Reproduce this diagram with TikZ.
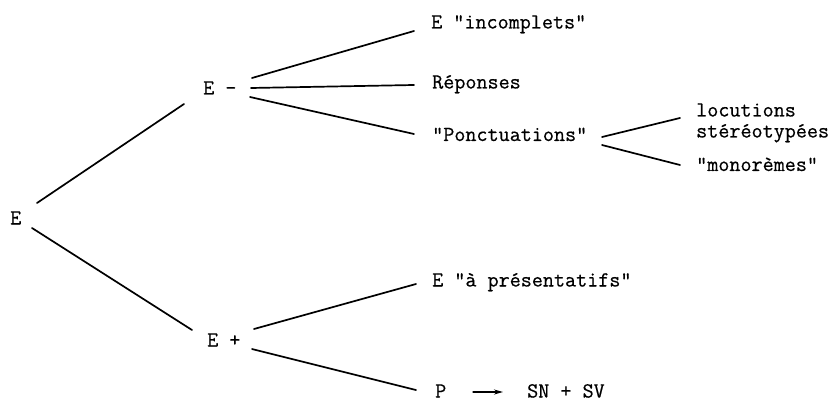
\documentclass[tikz,border=0pt]{standalone}
\usepackage{fontspec}
\newfontfamily\typew[FakeBold=0.6]{Latin Modern Mono}
\usetikzlibrary{calc,arrows.meta}
\tikzset{
  lbl/.style={anchor=base west, inner sep=0pt, font=\fontsize{21.5}{21.5}\selectfont\typew},
  edge/.style={line width=1.7pt, line cap=round},
  rewrite/.style={edge, line width=1.3pt, -{Stealth[length=9pt,width=5pt]}}
}
\begin{document}
\begin{tikzpicture}[x=1pt, y=-1pt]
  \useasboundingbox (0,0) rectangle (837,398);

  % labels of the tree (base line positions)
  \node[lbl] (root) at (10,224.5)  {E};
  \node[lbl] (em)   at (203,94.5)  {E -};
  \node[lbl] (ep)   at (207,346.5) {E +};
  \node[lbl] (inc)  at (431,28.5)  {E "incomplets"};
  \node[lbl] (rep)  at (432,88.5)  {Réponses};
  \node[lbl] (ponc) at (432,141)   {"Ponctuations"};
  \node[lbl] (loc)  at (696,116.5) {locutions};
  \node[lbl] (ster) at (696,137.5) {stéréotypées};
  \node[lbl] (mono) at (696,171)   {"monorèmes"};
  \node[lbl] (pres) at (432,286.5) {E "à présentatifs"};
  \node[lbl] (P)    at (435,397.5) {P};
  \node[lbl] (snsv) at (527,397.5) {SN + SV};

  % first split
  \draw[edge] ($(root.base west)+(27,-21.5)$) -- ($(em.base west)+(-19,9.5)$);
  \draw[edge] ($(root.base west)+(22,3.5)$)   -- ($(ep.base west)+(-15,-16.5)$);

  % branches of E -
  \draw[edge] ($(em.base west)+(49,-16.5)$) -- ($(inc.base west)+(-17,2.5)$);
  \draw[edge] ($(em.base west)+(48,-6.5)$)  -- ($(rep.base west)+(-18,-3.5)$);
  \draw[edge] ($(em.base west)+(47,2.5)$)   -- ($(ponc.base west)+(-18,-7)$);

  % branches of "Ponctuations"
  \draw[edge] ($(ponc.base west)+(170,-4)$) -- ($(loc.base west)+(-16,1.5)$);
  \draw[edge] ($(ponc.base west)+(170,4)$)  -- ($(mono.base west)+(-16,-6)$);

  % branches of E +
  \draw[edge] ($(ep.base west)+(47,-17.5)$) -- ($(pres.base west)+(-16,-2.5)$);
  \draw[edge] ($(ep.base west)+(45,2.5)$)   -- ($(P.base west)+(-19,-7.5)$);

  % rewrite rule
  \draw[rewrite] ($(P.base west)+(38,-5.5)$) -- ($(snsv.base west)+(-24,-5.5)$);
\end{tikzpicture}
\end{document}
